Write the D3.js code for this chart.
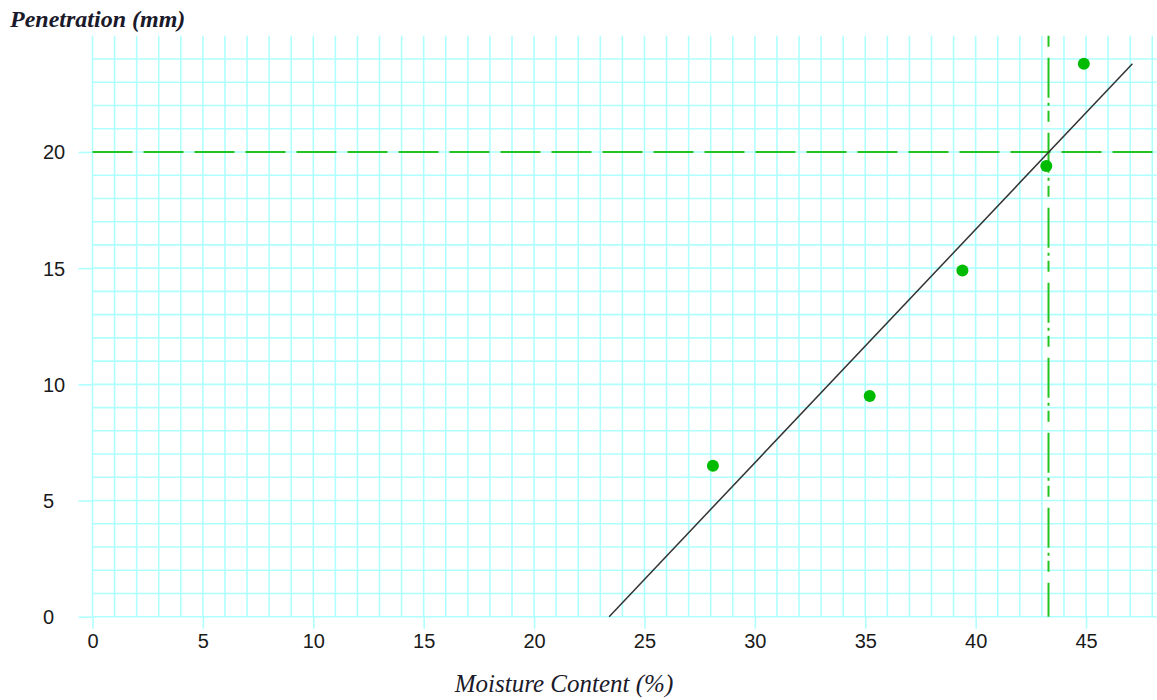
<!DOCTYPE html>
<html>
<head>
<meta charset="utf-8">
<script src="https://cdn.jsdelivr.net/npm/d3@7"></script>
<style>
  html, body { margin: 0; padding: 0; background: #fff; }
  svg { display: block; }
</style>
</head>
<body>
<svg id="chart" width="1157" height="700"></svg>
<script>
// ---- data ----
const moisture = [28.1, 35.2, 39.4, 43.2, 44.9];      // Moisture Content (%)
const penetration = [6.5, 9.5, 14.9, 19.4, 23.8];     // Penetration (mm)
const fitX = [23.4, 47.1];                             // best-fit line ends (x)
const fitY = [0, 23.8];                                // best-fit line ends (y)
const targetPenetration = 20;                          // horizontal reference
const liquidLimit = 43.3;                              // vertical reference
const xTicks = [0, 5, 10, 15, 20, 25, 30, 35, 40, 45];
const yTicks = [0, 5, 10, 15, 20];
const xGrid = d3.range(0, 49, 1);
const yGrid = d3.range(0, 25, 1);

const svg = d3.select("#chart");
const x = d3.scaleLinear().domain([0, 48.2]).range([92.5, 1156.7]);
const y = d3.scaleLinear().domain([0, 25]).range([616.7, 35.8]);

const gridColor = "#b0ffff";
const green = "#22c422";

// grid
const grid = svg.append("g");
grid.selectAll("line.v").data(xGrid).join("line")
  .attr("x1", d => x(d)).attr("x2", d => x(d))
  .attr("y1", y(0)).attr("y2", y(25))
  .attr("stroke", gridColor).attr("stroke-width", 1.6);
grid.selectAll("line.h").data(yGrid).join("line")
  .attr("x1", x(0)).attr("x2", x(48.2))
  .attr("y1", d => y(d)).attr("y2", d => y(d))
  .attr("stroke", gridColor).attr("stroke-width", 1.6);

// axes
const xAxis = svg.append("g").attr("transform", `translate(0,${y(0)})`)
  .call(d3.axisBottom(x).tickValues(xTicks).tickSize(12).tickPadding(4).tickFormat(d3.format("d")));
const yAxis = svg.append("g").attr("transform", `translate(${x(0)},0)`)
  .call(d3.axisLeft(y).tickValues(yTicks).tickSize(14).tickPadding(0).tickFormat(d3.format("d")));
[xAxis, yAxis].forEach(g => {
  g.select(".domain").remove();
  g.selectAll(".tick line").attr("stroke", gridColor).attr("stroke-width", 1.6);
  g.selectAll(".tick text")
    .attr("fill", "#1a1a1a")
    .style("font-family", "'Liberation Sans', Arial, sans-serif")
    .style("font-size", "20px");
});
yAxis.selectAll(".tick text").attr("text-anchor", "start").attr("x", 43 - x(0)).attr("dy", "0.35em");
xAxis.selectAll(".tick text").attr("y", 17).attr("dy", "0.71em");

// reference lines
svg.append("line")
  .attr("x1", x(0)).attr("x2", x(48.2))
  .attr("y1", y(targetPenetration)).attr("y2", y(targetPenetration))
  .attr("stroke", green).attr("stroke-width", 2)
  .attr("stroke-dasharray", "40,11");
svg.append("line")
  .attr("x1", x(liquidLimit)).attr("x2", x(liquidLimit))
  .attr("y1", y(25)).attr("y2", y(0))
  .attr("stroke", green).attr("stroke-width", 2)
  .attr("stroke-dasharray", "11,11,40,5,3,5");

// fit line
svg.append("line")
  .attr("x1", x(fitX[0])).attr("y1", y(fitY[0]))
  .attr("x2", x(fitX[1])).attr("y2", y(fitY[1]))
  .attr("stroke", "#333").attr("stroke-width", 1.5);

// points
svg.append("g").selectAll("circle").data(moisture).join("circle")
  .attr("cx", d => x(d))
  .attr("cy", (d, i) => y(penetration[i]))
  .attr("r", 6)
  .attr("fill", "#00bb00");

// titles
svg.append("text")
  .attr("x", 10).attr("y", 27)
  .style("font-family", "'Liberation Serif', 'Times New Roman', serif")
  .style("font-style", "italic").style("font-weight", "bold")
  .style("font-size", "24px").attr("fill", "#1a1a2a")
  .text("Penetration (mm)");
svg.append("text")
  .attr("x", 564).attr("y", 692).attr("text-anchor", "middle")
  .style("font-family", "'Liberation Serif', 'Times New Roman', serif")
  .style("font-style", "italic")
  .style("font-size", "25px").attr("fill", "#1a1a2a")
  .text("Moisture Content (%)");
</script>
</body>
</html>
